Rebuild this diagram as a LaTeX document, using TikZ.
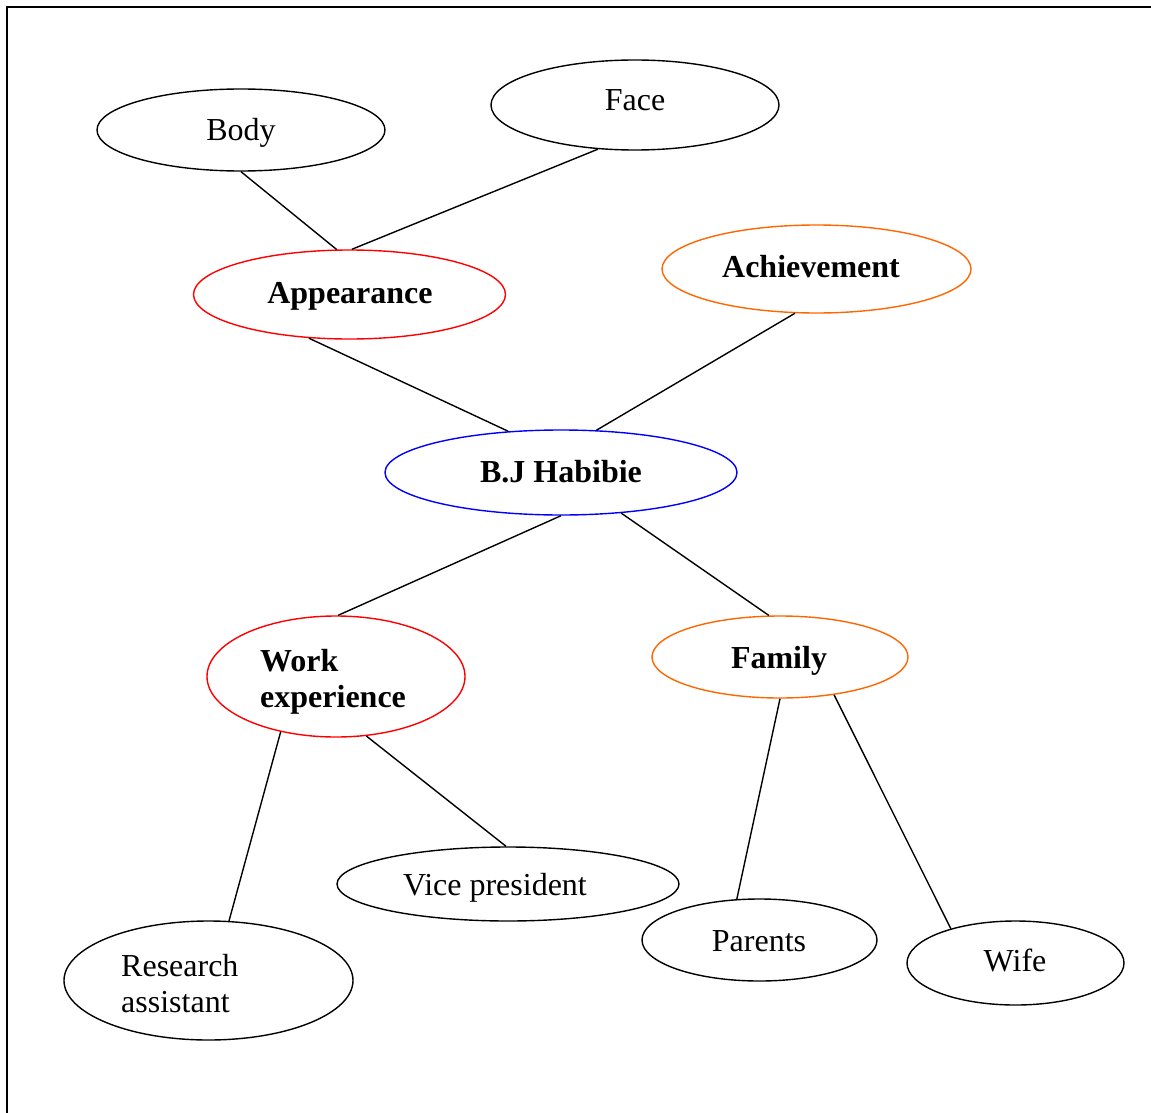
\documentclass[tikz,border=0pt]{standalone}
\usepackage{fontspec}
\setmainfont{Liberation Serif}
\usetikzlibrary{shapes.geometric}
\definecolor{worange}{RGB}{255,102,0}
\tikzset{
  oval/.style={ellipse, draw=black, line width=1.4pt, inner sep=0pt},
  lbl/.style={inner sep=0pt, font=\fontsize{32}{36}\selectfont},
  blbl/.style={lbl, font=\fontsize{32}{36}\selectfont\bfseries},
  link/.style={draw=black, line width=1.4pt},
}
\newcommand{\myoval}[5]{\node[oval,#5,minimum width=#3pt,minimum height=#4pt] (#1) at (#2) {};}
\begin{document}
\begin{tikzpicture}[x=1pt,y=-1pt]
\useasboundingbox (0,0) rectangle (1151,1113);
\draw[line width=2pt] (7,1113) -- (7,7) -- (1151,7);
% ellipses
\myoval{body}{241,130}{288}{82}{}
\myoval{face}{635,105}{288}{90}{}
\myoval{app}{349.5,294.5}{312}{89}{draw=red}
\myoval{ach}{816.5,269}{309}{88}{draw=worange}
\myoval{bj}{561,472.5}{352}{85}{draw=blue}
\myoval{work}{336,676.5}{258}{121}{draw=red}
\myoval{fam}{780,657}{256}{82}{draw=worange}
\myoval{vice}{508,884}{342}{74}{}
\myoval{res}{208.5,980.5}{289}{119}{}
\myoval{par}{759.5,940}{235}{82}{}
\myoval{wife}{1015.5,963}{217}{84}{}
% texts
\node[lbl, anchor=base] (bodyT) at (241,141) {Body};
\node[lbl, anchor=base] (faceT) at (635,111) {Face};
\node[blbl, anchor=base] (appT) at (350,303) {Appearance};
\node[blbl, anchor=base] (achT) at (811,277) {Achievement};
\node[blbl, anchor=base] (bjT) at (561,482) {B.J Habibie};
\node[blbl, anchor=north west, align=left] (workT) at (260,649) {Work\\experience};
\node[blbl, anchor=base] (famT) at (779,668) {Family};
\node[lbl, anchor=base] (viceT) at (495,895) {Vice president};
\node[lbl, anchor=north west, align=left] (resT) at (121,954) {Research\\assistant};
\node[lbl, anchor=base] (parT) at (759,951) {Parents};
\node[lbl, anchor=base] (wifeT) at (1015,971) {Wife};
% connectors
\path[link] (body.south) -- (app.106);
\path[link] (face.230) -- (app.87);
\path[link] (app.227) -- (bj.142);
\path[link] (ach.244) -- (bj.50);
\path[link] (bj.south) -- (work.88);
\path[link] (bj.326) -- (fam.105);
\path[link] (work.225) -- (res.71);
\path[link] (work.297) -- (vice.93);
\path[link] (fam.south) -- (par.119);
\path[link] (fam.325) -- (wife.152);
\end{tikzpicture}
\end{document}
